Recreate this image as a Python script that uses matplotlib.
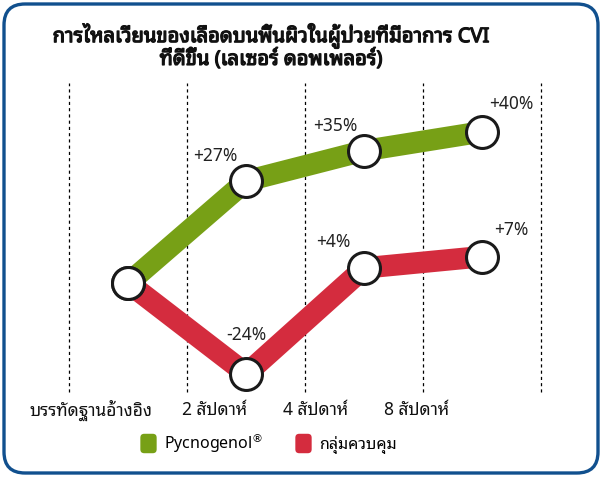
import matplotlib
matplotlib.use("Agg")
import matplotlib.pyplot as plt
import matplotlib.patheffects as pe
from matplotlib.patches import FancyBboxPatch
from matplotlib.lines import Line2D

plt.rcParams['font.family'] = ['Noto Sans Thai Looped', 'DejaVu Sans']

# data
categories = ["บรรทัดฐานอ้างอิง", "2 สัปดาห์", "4 สัปดาห์", "8 สัปดาห์"]
pycnogenol = [0, 27, 35, 40]
control = [0, -24, 4, 7]
pyc_labels = ["", "+27%", "+35%", "+40%"]
ctrl_labels = ["", "-24%", "+4%", "+7%"]
series_names = [r"Pycnogenol$^{\circledR}$", "กลุ่มควบคุม"]
title = "การไหลเวียนของเลือดบนพื้นผิวในผู้ป่วยที่มีอาการ CVI\nที่ดีขึ้น (เลเซอร์ ดอพเพลอร์)"

green = "#77a016"
red = "#d42c3e"
blue = "#11508e"

fig = plt.figure(figsize=(6.02, 4.78), dpi=100)

# rounded frame
frame = FancyBboxPatch((4 / 602, 5 / 478), 594 / 602, 469 / 478,
                       boxstyle="round,pad=0,rounding_size=0.035",
                       transform=fig.transFigure, fc="white", ec=blue, lw=2.4,
                       mutation_aspect=602 / 478, zorder=-10)
fig.patches.append(frame)

ax = fig.add_axes([69.3 / 602, (478 - 392) / 478, 472 / 602, 309 / 478])
ax.set_xlim(-0.5, 3.5)
ax.set_ylim(-28.8, 52.9)
ax.axis("off")

# dotted separators
for xv in [-0.5, 0.5, 1.5, 2.5, 3.5]:
    ax.axvline(xv, color="black", lw=0.9, ls=(0, (2.5, 2.5)), clip_on=False, zorder=1)

xs = range(len(categories))
ax.plot(xs, control, color=red, lw=15.5, solid_capstyle="butt", solid_joinstyle="miter", zorder=2)
ax.plot(xs, pycnogenol, color=green, lw=15.5, solid_capstyle="butt", solid_joinstyle="miter", zorder=3)
ax.plot(xs, control, ls="none", marker="o", ms=23, mfc="white", mec="#1a1a1a", mew=2.2, zorder=4)
ax.plot(xs, pycnogenol, ls="none", marker="o", ms=23, mfc="white", mec="#1a1a1a", mew=2.2, zorder=4)

# value labels
pyc_off = [(0, 0), (-22, 18), (-21, 18), (21, 20)]
ctrl_off = [(0, 0), (0, 28), (-22, 19), (21, 19)]
for i in xs:
    if pyc_labels[i]:
        ax.annotate(pyc_labels[i], (i, pycnogenol[i]), xytext=pyc_off[i], textcoords="offset points",
                    ha="center", va="center", fontsize=12.5, color="#222222", zorder=5)
    if ctrl_labels[i]:
        ax.annotate(ctrl_labels[i], (i, control[i]), xytext=ctrl_off[i], textcoords="offset points",
                    ha="center", va="center", fontsize=12.5, color="#222222", zorder=5)

# category labels
cat_shift = [-27, -23, -35, -47]
for i, c in enumerate(categories):
    ax.annotate(c, (i, -28.8), xytext=(cat_shift[i], -13), textcoords="offset points",
                ha="center", va="center", fontsize=12.5, color="#111111", annotation_clip=False)

fig.text(271 / 602, 1 - 46 / 478, title, ha="center", va="center", fontsize=14.5,
         color="#111111", linespacing=0.95,
         path_effects=[pe.withStroke(linewidth=0.9, foreground="#111111")])

# legend with rounded square markers
sq = FancyBboxPatch((-0.42, -0.5), 0.84, 1.0, boxstyle="round,pad=0,rounding_size=0.2").get_path()
handles = [Line2D([], [], ls="none", marker=sq, ms=14, mfc=green, mec="none"),
           Line2D([], [], ls="none", marker=sq, ms=14, mfc=red, mec="none")]
fig.legend(handles, series_names, loc="center", bbox_to_anchor=(268 / 602, 1 - 443 / 478),
           ncol=2, frameon=False, fontsize=11.5, handlelength=1.0, handletextpad=0.5,
           columnspacing=2.0, borderpad=0)

fig.savefig("out.png", dpi=100)
